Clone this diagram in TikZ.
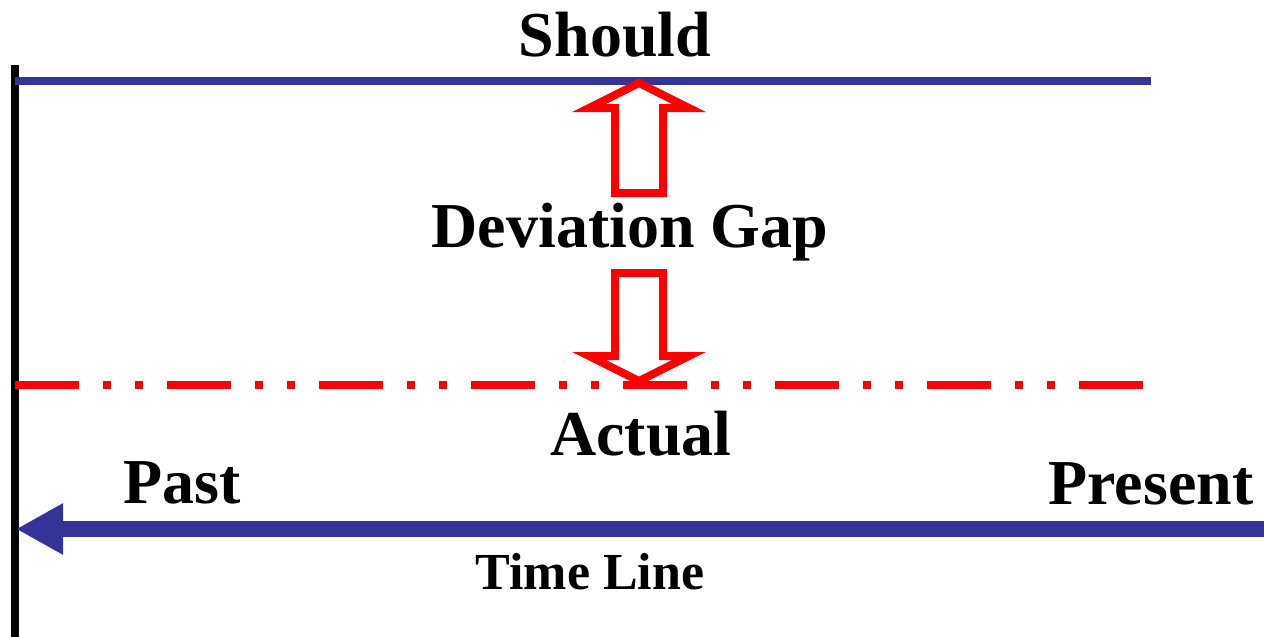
\documentclass[tikz,border=0pt]{standalone}
\usepackage{fontspec}
\setmainfont{Liberation Serif}
\usetikzlibrary{arrows.meta}
\definecolor{lineblue}{HTML}{333399}
\definecolor{gapred}{HTML}{FF0000}
\tikzset{
  bigtext/.style={anchor=base, font=\fontsize{32}{38}\selectfont\bfseries},
  smalltext/.style={anchor=base, font=\fontsize{26}{31}\selectfont\bfseries},
  gaparrow/.style={draw=gapred, fill=white, line width=4pt, miter limit=10},
}
\begin{document}
\begin{tikzpicture}[x=0.5pt,y=-0.5pt]
  \useasboundingbox (0,0) rectangle (1264,637);
  % axis and levels
  \draw[line width=4pt] (15,65) -- (15,637);
  \draw[lineblue, line width=4pt] (15,81) -- (1151,81);
  \draw[gapred, line width=4pt, dash pattern=on 32pt off 12pt on 4pt off 12pt on 4pt off 12pt] (15,385) -- (1143,385);
  % gap arrows
  \draw[gaparrow] (639,83) -- (689,108) -- (663,108) -- (663,193) -- (615,193) -- (615,108) -- (589,108) -- cycle;
  \draw[gaparrow] (615,273) -- (663,273) -- (663,356) -- (689,356) -- (639,381) -- (589,356) -- (615,356) -- cycle;
  % time line
  \coordinate (present) at (1264,529);
  \coordinate (past) at (16,529);
  \draw[lineblue, line width=8pt, -{Triangle[length=23.5pt,width=24pt]}] (present) -- (past);
  % labels
  \node[bigtext] (should) at (615,56) {Should};
  \node[bigtext] (gap) at (630,247) {Deviation Gap};
  \node[bigtext] (actual) at (641,455) {Actual};
  \node[bigtext] (pastlabel) at (182,503) {Past};
  \node[bigtext] (presentlabel) at (1151,504) {Present};
  \node[smalltext] (timeline) at (590,589) {Time Line};
\end{tikzpicture}
\end{document}
